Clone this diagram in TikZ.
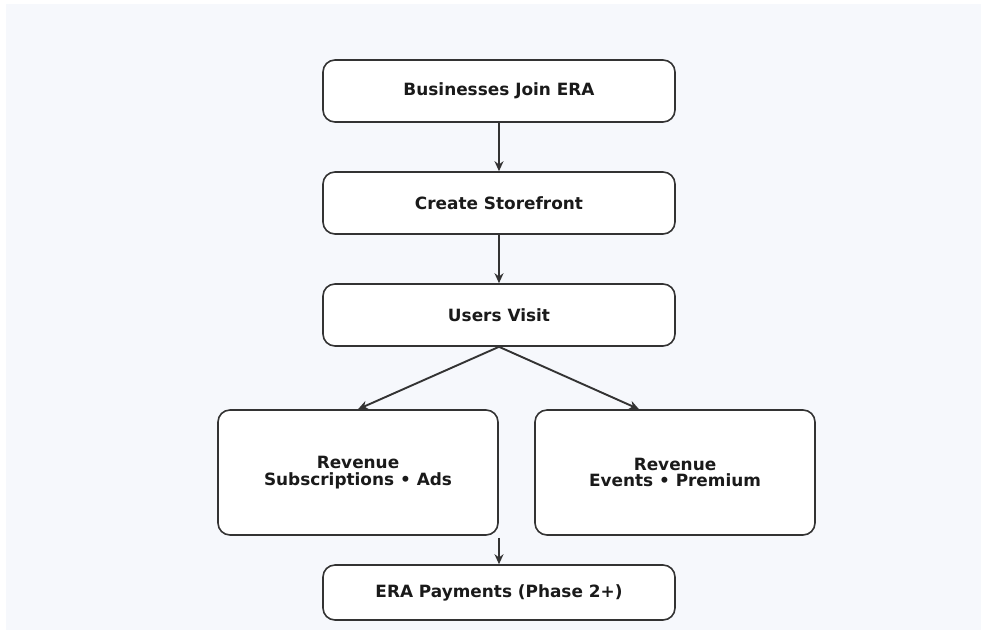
\documentclass[tikz,border=0pt]{standalone}
\usepackage{fontspec}
\setmainfont{DejaVu Sans}
\usetikzlibrary{arrows.meta}
\definecolor{bgc}{HTML}{F6F8FC}
\definecolor{linec}{HTML}{333333}
\definecolor{txtc}{HTML}{1A1A1A}
\begin{document}
\begin{tikzpicture}[x=1pt,y=-1pt,
  box/.style={draw=linec, line width=1.6pt, fill=white, rounded corners=12pt, inner sep=0pt,
    text=txtc, font=\bfseries\fontsize{16.9}{16.5}\selectfont, align=center},
  arr/.style={draw=linec, line width=1.9pt, -{Stealth[length=10pt,width=9pt]}}]
\useasboundingbox (0,0) rectangle (981,630);
\fill[white] (0,0) rectangle (981,630);
\fill[bgc] (6,4) rectangle (981,630);
\node[box, minimum width=352pt, minimum height=62pt] (b1) at (499,91) {Businesses Join ERA};
\node[box, minimum width=352pt, minimum height=62pt] (b2) at (499,203) {Create Storefront};
\node[box, minimum width=352pt, minimum height=62pt] (b3) at (499,315) {Users Visit};
\node[box, minimum width=280pt, minimum height=125pt] (b4) at (358,472.5) {Revenue\\Subscriptions • Ads};
\node[box, minimum width=280pt, minimum height=125pt] (b5) at (675,472.5) {Revenue\\Events • Premium};
\node[box, minimum width=352pt, minimum height=55pt] (b6) at (499,592.5) {ERA Payments (Phase 2+)};
\draw[arr] (b1) -- (b2);
\draw[arr] (b2) -- (b3);
\draw[arr] (b3.south) -- (b4.north);
\draw[arr] (b3.south) -- ([xshift=-36pt]b5.north);
\draw[arr] (b6.north |- b4.south) ++(0,2) -- (b6.north);
\end{tikzpicture}
\end{document}
